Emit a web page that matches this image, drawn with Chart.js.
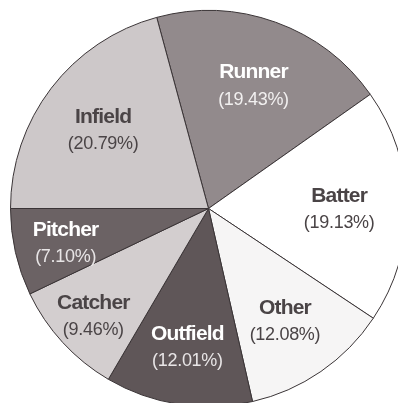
<!DOCTYPE html>
<html>
<head>
<meta charset="utf-8">
<script src="https://cdn.jsdelivr.net/npm/chart.js@4"></script>
<style>
  html, body { margin: 0; padding: 0; background: #fff; overflow: hidden; width: 398px; height: 403px; }
  #wrap { position: absolute; left: 0; top: 0; width: 417px; height: 417px; }
</style>
</head>
<body>
<div id="wrap"><canvas id="chart"></canvas></div>
<script>
// pie data, clockwise from the top
const categories = ['Runner', 'Batter', 'Other', 'Outfield', 'Catcher', 'Pitcher', 'Infield'];
const percents = [19.43, 19.13, 12.08, 12.01, 9.46, 7.10, 20.79];

const fills = ['#928a8c', '#ffffff', '#f6f5f5', '#5f5658', '#d3cecf', '#6b6264', '#cdc8c9'];
const textColors = ['#ffffff', '#4a4446', '#4a4446', '#ffffff', '#4a4446', '#ffffff', '#4a4446'];
const pctColors = ['#f2f0f0', '#4a4446', '#4a4446', '#e8e5e6', '#4a4446', '#e8e5e6', '#4a4446'];
const labelRadius = [0.67, 0.66, 0.68, 0.7, 0.79, 0.74, 0.67];

// start so that Pitcher/Infield border sits at 9 o'clock
const startAngle = 270 - percents.slice(0, 6).reduce((a, b) => a + b, 0) * 3.6;

const sliceLabels = {
  id: 'sliceLabels',
  afterDatasetsDraw(chart) {
    const ctx = chart.ctx;
    const arcs = chart.getDatasetMeta(0).data;
    ctx.save();
    ctx.textAlign = 'center';
    ctx.textBaseline = 'middle';
    arcs.forEach((arc, i) => {
      const mid = (arc.startAngle + arc.endAngle) / 2;
      const r = arc.outerRadius * labelRadius[i];
      const x = arc.x + Math.cos(mid) * r;
      const y = arc.y + Math.sin(mid) * r + 2;
      ctx.letterSpacing = '-0.8px';
      ctx.font = 'bold 21px "Liberation Sans", Arial, sans-serif';
      ctx.fillStyle = textColors[i];
      ctx.fillText(categories[i], x, y - 13);
      ctx.letterSpacing = '-0.3px';
      ctx.font = '18px "Liberation Sans", Arial, sans-serif';
      ctx.fillStyle = pctColors[i];
      ctx.fillText('(' + percents[i].toFixed(2) + '%)', x, y + 14);
    });
    ctx.restore();
  }
};

new Chart(document.getElementById('chart'), {
  type: 'pie',
  data: {
    labels: categories,
    datasets: [{
      data: percents,
      backgroundColor: fills,
      borderColor: '#3a3436',
      borderWidth: 1
    }]
  },
  options: {
    responsive: true,
    maintainAspectRatio: false,
    animation: false,
    rotation: startAngle,
    layout: { padding: 10 },
    plugins: {
      legend: { display: false },
      tooltip: { enabled: false }
    }
  },
  plugins: [sliceLabels]
});
</script>
</body>
</html>
